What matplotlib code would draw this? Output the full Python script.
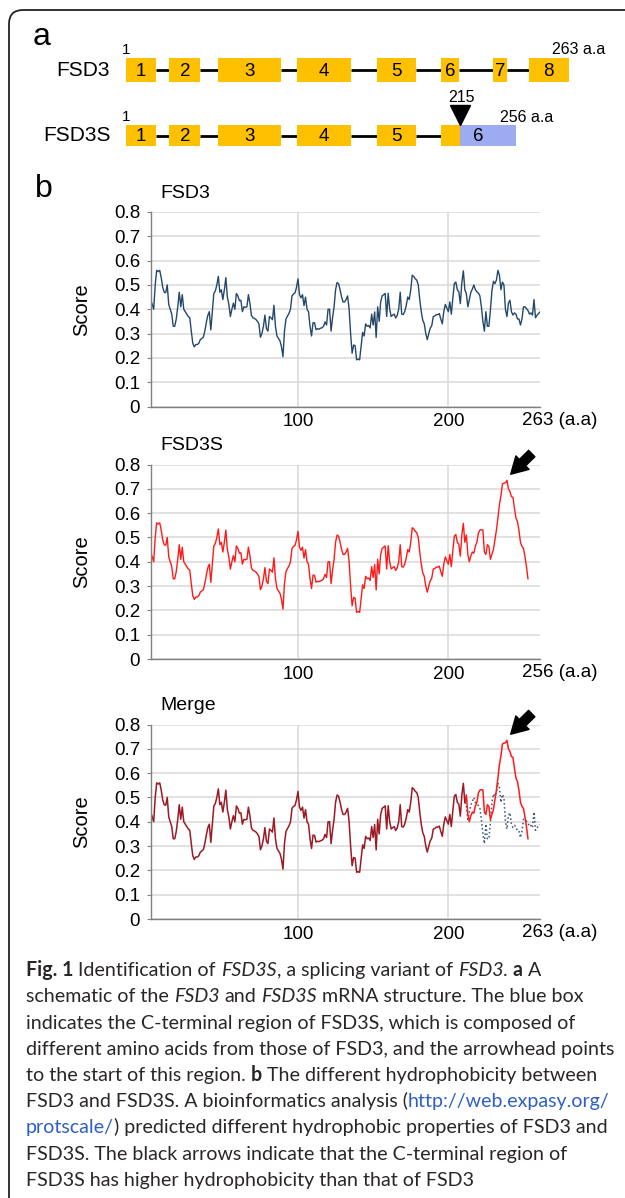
import numpy as np
import matplotlib
matplotlib.use('Agg')
import matplotlib.pyplot as plt
from matplotlib.patches import FancyBboxPatch

plt.rcParams['font.family'] = ['Liberation Sans', 'DejaVu Sans']

# panel a: exon layout of the schematic (schematic units = px of panel a)
exon_labels_fsd3 = ['1', '2', '3', '4', '5', '6', '7', '8']
exon_start_fsd3 = [125.5, 169.3, 217.9, 297.2, 376.5, 441.4, 493.2, 528.7]
exon_end_fsd3 = [156.2, 200.4, 281.3, 351.4, 416.3, 459.0, 506.8, 568.9]
exon_labels_fsd3s = ['1', '2', '3', '4', '5', '']
exon_start_fsd3s = [125.5, 169.3, 217.9, 297.2, 376.5, 441.4]
exon_end_fsd3s = [156.2, 200.4, 281.3, 351.4, 416.3, 460.2]
cterm_start, cterm_end = 460.2, 516.0
splice_aa = 215

# panel b: ProtScale hydrophobicity (residue 2..261)
fsd3 = [0.44, 0.42, 0.40, 0.50, 0.56, 0.555, 0.56, 0.53, 0.49, 0.47,
        0.468, 0.50, 0.42, 0.40, 0.38, 0.33, 0.33, 0.36, 0.41, 0.47,
        0.41, 0.46, 0.40, 0.39, 0.38, 0.37, 0.365, 0.31, 0.26, 0.245,
        0.255, 0.255, 0.26, 0.275, 0.28, 0.285, 0.31, 0.345, 0.375, 0.39,
        0.315, 0.39, 0.465, 0.475, 0.50, 0.535, 0.47, 0.48, 0.44, 0.48,
        0.53, 0.45, 0.42, 0.37, 0.40, 0.425, 0.40, 0.465, 0.455, 0.435,
        0.437, 0.39, 0.41, 0.408, 0.41, 0.46, 0.425, 0.375, 0.365, 0.362,
        0.358, 0.35, 0.34, 0.285, 0.30, 0.33, 0.376, 0.32, 0.31, 0.37,
        0.365, 0.357, 0.416, 0.33, 0.29, 0.28, 0.27, 0.246, 0.205, 0.31,
        0.36, 0.372, 0.383, 0.40, 0.455, 0.463, 0.467, 0.49, 0.525, 0.46,
        0.447, 0.46, 0.415, 0.45, 0.40, 0.39, 0.33, 0.29, 0.345, 0.344,
        0.316, 0.32, 0.318, 0.322, 0.324, 0.33, 0.348, 0.335, 0.40, 0.40,
        0.31, 0.365, 0.41, 0.48, 0.51, 0.505, 0.48, 0.45, 0.43, 0.43,
        0.44, 0.455, 0.40, 0.30, 0.219, 0.253, 0.25, 0.192, 0.195, 0.192,
        0.25, 0.305, 0.29, 0.34, 0.33, 0.333, 0.323, 0.38, 0.335, 0.389,
        0.284, 0.41, 0.35, 0.43, 0.455, 0.46, 0.465, 0.37, 0.466, 0.40,
        0.37, 0.376, 0.38, 0.364, 0.375, 0.40, 0.47, 0.38, 0.378, 0.39,
        0.415, 0.45, 0.44, 0.48, 0.54, 0.535, 0.525, 0.52, 0.50, 0.44,
        0.39, 0.355, 0.34, 0.30, 0.275, 0.30, 0.322, 0.333, 0.37, 0.372,
        0.378, 0.378, 0.382, 0.36, 0.34, 0.39, 0.42, 0.405, 0.39, 0.43,
        0.38, 0.445, 0.505, 0.512, 0.48, 0.472, 0.423, 0.51, 0.558, 0.48,
        0.464, 0.41, 0.44, 0.47, 0.483, 0.50, 0.48, 0.472, 0.467, 0.455,
        0.41, 0.35, 0.31, 0.39, 0.33, 0.33, 0.396, 0.475, 0.515, 0.505,
        0.52, 0.56, 0.54, 0.48, 0.512, 0.50, 0.40, 0.37, 0.425, 0.437,
        0.39, 0.376, 0.385, 0.38, 0.36, 0.36, 0.335, 0.36, 0.41, 0.41,
        0.403, 0.395, 0.38, 0.385, 0.376, 0.44, 0.365, 0.375, 0.382, 0.389]
n_shared = 210  # residues 2..211 are identical in both isoforms
fsd3s_cterm = [0.51, 0.43, 0.40, 0.425, 0.44, 0.435, 0.465, 0.48, 0.518, 0.53,
               0.532, 0.53, 0.44, 0.43, 0.47, 0.463, 0.41, 0.43, 0.45, 0.49,
               0.53, 0.58, 0.635, 0.67, 0.72, 0.723, 0.725, 0.735, 0.70, 0.689,
               0.668, 0.665, 0.62, 0.58, 0.565, 0.53, 0.48, 0.463, 0.455, 0.42,
               0.38, 0.33]
first_pos = 2

fsd3 = np.array(fsd3)
fsd3s = np.concatenate([fsd3[:n_shared], fsd3s_cterm])
pos3 = np.arange(first_pos, first_pos + len(fsd3))
pos3s = np.arange(first_pos, first_pos + len(fsd3s))

yticks = [0, 0.1, 0.2, 0.3, 0.4, 0.5, 0.6, 0.7, 0.8]
ytick_labels = ['0', '0.1', '0.2', '0.3', '0.4', '0.5', '0.6', '0.7', '0.8']

NAVY = '#25486a'
RED = '#ff1a1a'
MAROON = '#9a1b26'
GOLD = '#ffc000'
LILAC = '#9dabf0'

W, H = 625, 1198
fig = plt.figure(figsize=(W / 100, H / 100), dpi=100)

# background canvas in pixel units (border + caption)
bg = fig.add_axes([0, 0, 1, 1])
bg.set_xlim(0, W)
bg.set_ylim(H, 0)
bg.axis('off')
bg.add_patch(FancyBboxPatch((9, 10), 700, 1300, boxstyle='round,pad=0,rounding_size=14',
                            fill=False, ec='#222222', lw=1.3))

# ---------------- panel a ----------------
pa = fig.add_axes([0, 1 - 170 / H, 1, 170 / H])
pa.set_xlim(0, W)
pa.set_ylim(170, 0)
pa.axis('off')
row_y = [70, 135.5]
row_h = [23.4, 21.5]

for starts, ends, labels, y, h in [(exon_start_fsd3, exon_end_fsd3, exon_labels_fsd3, row_y[0], row_h[0]),
                                   (exon_start_fsd3s, exon_end_fsd3s, exon_labels_fsd3s, row_y[1], row_h[1])]:
    for e0, s1 in zip(ends[:-1], starts[1:]):
        pa.plot([e0, s1], [y, y], color='black', lw=2.0, solid_capstyle='butt', zorder=1)
    widths = [e - s for s, e in zip(starts, ends)]
    pa.barh(y, widths, left=starts, height=h, color=GOLD, zorder=2)
    for s, e, lab in zip(starts, ends, labels):
        pa.text((s + e) / 2, y + 1, lab, ha='center', va='center', fontsize=13.5, zorder=3)
    pa.text(starts[0] + 1, y - h / 2 - 8, '1', ha='center', va='center', fontsize=11)

pa.barh(row_y[1], cterm_end - cterm_start, left=cterm_start, height=row_h[1], color=LILAC, zorder=2)
pa.text(cterm_start + 18, row_y[1] + 1, '6', ha='center', va='center', fontsize=13.5, zorder=3)
pa.plot(cterm_start, row_y[1] - row_h[1] / 2 - 10, marker='v', ms=15, color='black')
pa.text(cterm_start + 1, 97, str(splice_aa), ha='center', va='center', fontsize=11.5)
pa.text(exon_end_fsd3[-1] - 17, 50, '263 a.a', ha='left', va='center', fontsize=11.5)
pa.text(cterm_end - 16, 117, '256 a.a', ha='left', va='center', fontsize=11.5)
pa.text(110, row_y[0], 'FSD3', ha='right', va='center', fontsize=15)
pa.text(111, row_y[1], 'FSD3S', ha='right', va='center', fontsize=15)
pa.text(33, 37, 'a', ha='left', va='center', fontsize=23)

bg.text(35, 189, 'b', ha='left', va='center', fontsize=23)


# ---------------- panel b ----------------
def hydro_axes(top_px, title, end_label):
    ax = fig.add_axes([151.3 / W, 1 - (top_px + 194.5) / H, 388.7 / W, 194.5 / H])
    ax.set_xlim(2.4, 261)
    ax.set_ylim(0, 0.8)
    ax.set_yticks(yticks)
    ax.set_yticklabels(ytick_labels)
    ax.set_xticks([100, 200])
    ax.grid(True, color='#d9d9d9', lw=1.1)
    ax.set_axisbelow(True)
    for s in ['top', 'right']:
        ax.spines[s].set_visible(False)
    for s in ['left', 'bottom']:
        ax.spines[s].set_color('#808080')
        ax.spines[s].set_linewidth(1.0)
    ax.tick_params(axis='y', length=3, color='#808080', pad=5, labelsize=13.5)
    ax.tick_params(axis='x', length=0, pad=5, labelsize=13.5)
    ax.set_ylabel('Score', fontsize=14.5)
    ax.yaxis.set_label_coords(-0.154, 0.5)
    ax.text(0.023, 1 + 19 / 194.5, title, transform=ax.transAxes, ha='left', va='center', fontsize=14)
    ax.annotate(end_label, xy=(1, 0), xycoords='axes fraction', xytext=(-13, -10),
                textcoords='offset points', ha='left', va='center', fontsize=13.5)
    return ax


def peak_arrow(ax):
    i = int(np.argmax(fsd3s))
    tip = (pos3s[i] + 2.5, fsd3s[i] + 0.025)
    tail = (tip[0] + 14, tip[1] + 0.085)
    ax.annotate('', xy=tip, xytext=tail, annotation_clip=False,
                arrowprops=dict(arrowstyle='simple,head_length=0.7,head_width=0.8,tail_width=0.38',
                                color='black', mutation_scale=17, shrinkA=0, shrinkB=0))


ax1 = hydro_axes(212, 'FSD3', '263 (a.a)')
ax1.plot(pos3, fsd3, color=NAVY, lw=1.0)

ax2 = hydro_axes(464.5, 'FSD3S', '256 (a.a)')
ax2.plot(pos3s, fsd3s, color=RED, lw=1.0)
peak_arrow(ax2)

ax3 = hydro_axes(724.5, 'Merge', '263 (a.a)')
ax3.plot(pos3[n_shared - 1:], fsd3[n_shared - 1:], color='#3a5472', lw=1.1, ls=':')
ax3.plot(pos3s[n_shared - 1:], fsd3s[n_shared - 1:], color=RED, lw=1.1)
ax3.plot(pos3[:n_shared], fsd3[:n_shared], color=MAROON, lw=1.1)
peak_arrow(ax3)

# ---------------- caption ----------------
cap_kw = dict(fontsize=14.1, family=['Lato', 'DejaVu Sans'], color='#2a2627')
run_styles = {'n': {}, 'i': {'style': 'italic'}, 'b': {'weight': 'bold'}, 'l': {'color': '#2f5fc4'}}
caption = [
    [('Fig. 1', 'b'), (' Identification of ', 'n'), ('FSD3S', 'i'), (', a splicing variant of ', 'n'),
     ('FSD3', 'i'), ('. ', 'n'), ('a', 'b'), (' A', 'n')],
    [('schematic of the ', 'n'), ('FSD3', 'i'), (' and ', 'n'), ('FSD3S', 'i'),
     (' mRNA structure. The blue box', 'n')],
    [('indicates the C-terminal region of FSD3S, which is composed of', 'n')],
    [('different amino acids from those of FSD3, and the arrowhead points', 'n')],
    [('to the start of this region. ', 'n'), ('b', 'b'), (' The different hydrophobicity between', 'n')],
    [('FSD3 and FSD3S. A bioinformatics analysis (', 'n'), ('http://web.expasy.org/', 'l')],
    [('protscale/', 'l'), (') predicted different hydrophobic properties of FSD3 and', 'n')],
    [('FSD3S. The black arrows indicate that the C-terminal region of', 'n')],
    [('FSD3S has higher hydrophobicity than that of FSD3', 'n')],
]

renderer = fig.canvas.get_renderer()


def width_of(s, **kw):
    t = bg.text(0, 0, s, **kw)
    w = t.get_window_extent(renderer).width
    t.remove()
    return w


space_w = width_of('a a', **cap_kw) - width_of('aa', **cap_kw)
for k, runs in enumerate(caption):
    x = 26
    y = 976 + k * 26.25
    for s, st in runs:
        kw = dict(cap_kw, **run_styles[st])
        core = s.strip(' ')
        x += (len(s) - len(s.lstrip(' '))) * space_w
        if core:
            t = bg.text(x, y, core, ha='left', va='baseline', **kw)
            x += t.get_window_extent(renderer).width
        x += (len(s) - len(s.rstrip(' '))) * space_w

fig.savefig('out.png', dpi=100)
